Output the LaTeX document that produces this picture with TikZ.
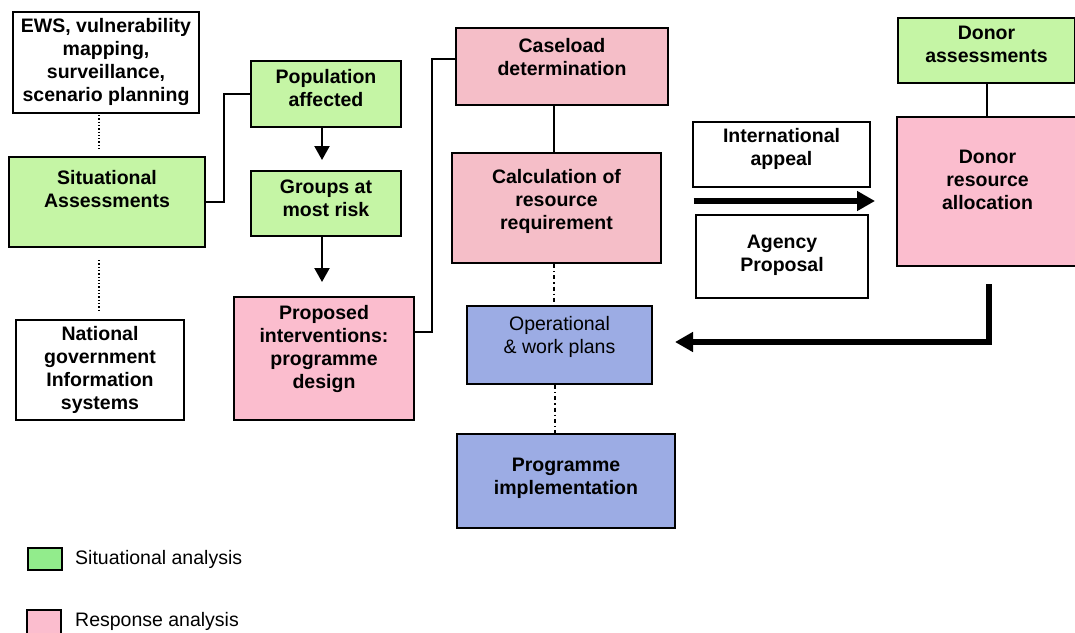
\documentclass[tikz,border=0pt]{standalone}
\usepackage{fontspec}
\setmainfont{Liberation Sans}
\usetikzlibrary{arrows.meta,calc}
\definecolor{boxgreen}{RGB}{197,245,165}
\definecolor{leggreen}{RGB}{146,236,140}
\definecolor{pinkA}{RGB}{251,189,206}
\definecolor{pinkB}{RGB}{245,190,200}
\definecolor{boxblue}{RGB}{156,172,228}
\newcommand\liftt[2]{\raisebox{#1}[\height][\depth]{\begin{tabular}{@{}c@{}}#2\end{tabular}}}
\begin{document}
\begin{tikzpicture}[x=1pt,y=-1pt,
  box/.style={draw=black, line width=2pt, inner sep=0pt, anchor=north west,
    font=\bfseries\fontsize{19.5}{23}\selectfont},
  plainbox/.style={box, font=\fontsize{19.5}{23}\selectfont},
  conn/.style={draw=black, line width=2pt},
  arr/.style={draw=black, line width=2.2pt, -{Triangle[length=14pt,width=15pt]}},
  bigarr/.style={draw=black, line width=5.5pt, line join=miter, -{Triangle[length=18pt,width=19pt]}},
  dots/.style={draw=black, line width=1.3pt, dash pattern=on 1.3pt off 2pt},
  dashdots/.style={draw=black, line width=1.3pt, dash pattern=on 4pt off 3pt on 1.3pt off 3pt},
  legbox/.style={draw=black, line width=2pt, inner sep=0pt, anchor=north west},
  legtext/.style={anchor=west, inner sep=0pt, font=\fontsize{19.5}{23}\selectfont}
]
\useasboundingbox (0,0) rectangle (1075,632);

% left column
\node[box, fill=white, minimum width=186pt, minimum height=101pt] (ews) at (12,11)
  {\liftt{0pt}{EWS, vulnerability\\mapping,\\surveillance,\\scenario planning}};
\node[box, fill=boxgreen, minimum width=196pt, minimum height=90pt] (sit) at (8,156)
  {\liftt{11pt}{Situational\\Assessments}};
\node[box, fill=white, minimum width=168pt, minimum height=100pt] (nat) at (15,319)
  {\liftt{0pt}{National\\government\\Information\\systems}};

% second column
\node[box, fill=boxgreen, minimum width=150pt, minimum height=66pt] (pop) at (250,60)
  {\liftt{3.5pt}{Population\\affected}};
\node[box, fill=boxgreen, minimum width=150pt, minimum height=65pt] (grp) at (250,170)
  {\liftt{3.5pt}{Groups at\\most risk}};
\node[box, fill=pinkA, minimum width=180pt, minimum height=123pt] (prop) at (233,296)
  {\liftt{9pt}{Proposed\\interventions:\\programme\\design}};

% third column
\node[box, fill=pinkB, minimum width=212pt, minimum height=77pt] (case) at (455,27)
  {\liftt{7pt}{Caseload\\determination}};
\node[box, fill=pinkB, minimum width=209pt, minimum height=110pt] (calc) at (451,152)
  {\liftt{6.5pt}{Calculation of\\resource\\requirement}};
\node[plainbox, fill=boxblue, minimum width=185pt, minimum height=78pt] (oper) at (466,305)
  {\liftt{7.5pt}{Operational\\\& work plans}};
\node[box, fill=boxblue, minimum width=218pt, minimum height=94pt] (impl) at (456,433)
  {\liftt{2.5pt}{Programme\\implementation}};

% right part
\node[box, fill=white, minimum width=177pt, minimum height=65pt] (intl) at (692,121)
  {\liftt{4.7pt}{International\\appeal}};
\node[box, fill=white, minimum width=172pt, minimum height=83pt] (agency) at (695,214)
  {\liftt{1pt}{Agency\\Proposal}};
\node[box, fill=boxgreen, minimum width=177pt, minimum height=65pt] (dass) at (897,17)
  {\liftt{4pt}{Donor\\assessments}};
\node[box, fill=pinkA, minimum width=181pt, minimum height=149pt] (dall) at (896,116)
  {\liftt{9.5pt}{Donor\\resource\\allocation}};

% connectors
\draw[dots, shorten <=1pt, shorten >=6pt] ([xshift=-7pt]ews.south) -- ([xshift=-7pt]ews.south |- sit.north);
\draw[dots, shorten <=12pt, shorten >=8pt] ([xshift=-1pt]nat.north |- sit.south) -- ([xshift=-1pt]nat.north);
\draw[conn] (sit.east) -- ++(18,0) |- (pop.west);
\draw[arr, shorten >=10pt] ([xshift=-4pt]pop.south) -- ([xshift=-4pt]pop.south |- grp.north);
\draw[arr, shorten >=14pt] ([xshift=-4pt]grp.south) -- ([xshift=-4pt]grp.south |- prop.north);
\draw[conn] ([yshift=27pt]prop.east) -- ++(17,0) |- ([yshift=8pt]case.west);
\draw[conn] ([xshift=-2.5pt]calc.north |- case.south) -- ([xshift=-2.5pt]calc.north);
\draw[dashdots] ([xshift=-2.5pt]calc.south) -- ([xshift=-2.5pt]calc.south |- oper.north);
\draw[dashdots] ([xshift=-4.5pt]oper.south) -- ([xshift=-4.5pt]oper.south |- impl.north);
\draw[conn] (dass.south) -- (dass.south |- dall.north);
\draw[bigarr, shorten >=-5pt] ($(intl.south west)!0.5!(agency.north west)$) -- ($(intl.south east)!0.5!(agency.north east)$);
\draw[bigarr] ([xshift=1.5pt, yshift=-17pt]dall.south) |- ([xshift=22pt, yshift=3pt]oper.east);

% legend
\node[legbox, fill=leggreen, minimum width=34pt, minimum height=22pt] (lg) at (27,547) {};
\node[legtext] (lgt) at ([xshift=12pt]lg.east) {Situational analysis};
\node[legbox, fill=pinkA, minimum width=34pt, minimum height=30pt] (lp) at (26,609) {};
\node[legtext] (lpt) at (75,621) {Response analysis};
\end{tikzpicture}
\end{document}
